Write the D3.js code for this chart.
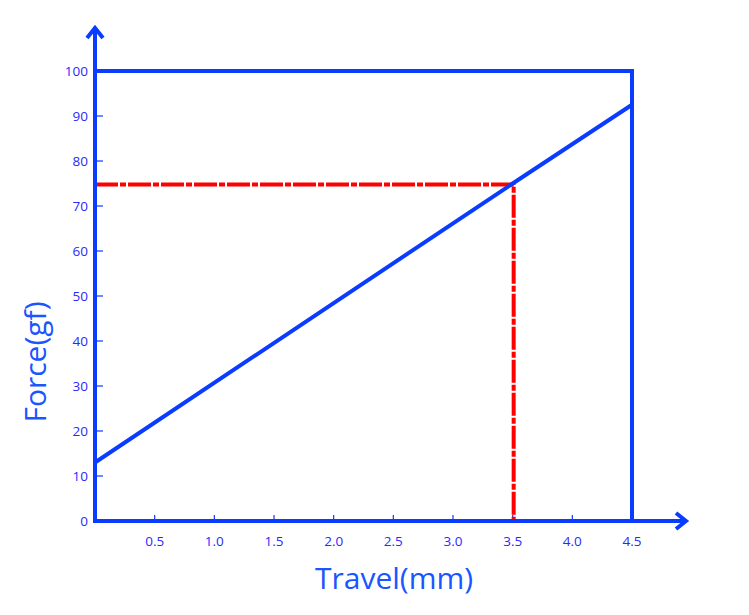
<!DOCTYPE html>
<html><head><meta charset="utf-8">
<script src="https://cdn.jsdelivr.net/npm/d3@7"></script>
<style>body{margin:0;background:#fff}</style>
</head><body>
<svg id="c" width="749" height="615"></svg>
<script>
const xTicks = [0.5,1.0,1.5,2.0,2.5,3.0,3.5,4.0,4.5];
const yTicks = [0,10,20,30,40,50,60,70,80,90,100];
const lineTravel = [0, 3.5, 4.5];
const lineForce = [13, 75, 92.5];
const markTravel = 3.5;
const markForce = 75;
const xMax = 4.5, yMax = 100;

const svg = d3.select("#c");
const blue = "#0a3cff", txt = "#2a2aff";
const x = d3.scaleLinear().domain([0,4.5]).range([95,632]);
const y = d3.scaleLinear().domain([0,100]).range([521,71]);

// tick labels
svg.append("g").selectAll("text").data(xTicks).join("text")
  .attr("x", d=>x(d)).attr("y", 546).attr("text-anchor","middle")
  .attr("font-family","Open Sans, DejaVu Sans, sans-serif").attr("font-size",13.5).attr("fill",txt)
  .text(d=>d3.format(".1f")(d));
svg.append("g").selectAll("text").data(yTicks).join("text")
  .attr("x", 88).attr("y", d=>y(d)+5).attr("text-anchor","end")
  .attr("font-family","Open Sans, DejaVu Sans, sans-serif").attr("font-size",13.5).attr("fill",txt)
  .text(d=>d);
// tick marks
svg.append("g").selectAll("line").data(xTicks).join("line")
  .attr("x1",d=>x(d)).attr("x2",d=>x(d)).attr("y1",521).attr("y2",515)
  .attr("stroke",blue).attr("stroke-width",1.2);
svg.append("g").selectAll("line").data(yTicks.slice(1)).join("line")
  .attr("x1",95).attr("x2",103).attr("y1",d=>y(d)).attr("y2",d=>y(d))
  .attr("stroke",blue).attr("stroke-width",1.2);

// box
svg.append("path").attr("d",`M${x(0)},${y(yMax)}H${x(xMax)}V${y(0)}`)
  .attr("fill","none").attr("stroke",blue).attr("stroke-width",4);

// red dash-dot
svg.append("path").attr("d",`M${x(0)},${y(markForce)+1}H${x(markTravel)+1}V${y(0)}`)
  .attr("fill","none").attr("stroke","#ff0000").attr("stroke-width",4)
  .attr("stroke-dasharray","23,2,6,2");

// data line
const line = d3.line().x(d=>x(d[0])).y(d=>y(d[1]));
svg.append("path").datum(lineTravel.map((t,i)=>[t,lineForce[i]]))
  .attr("d",line).attr("fill","none").attr("stroke",blue).attr("stroke-width",4);

// axes with arrows
svg.append("line").attr("x1",95).attr("y1",523).attr("x2",95).attr("y2",29)
  .attr("stroke",blue).attr("stroke-width",4);
svg.append("line").attr("x1",93).attr("y1",521).attr("x2",686).attr("y2",521)
  .attr("stroke",blue).attr("stroke-width",4);
svg.append("path").attr("d","M87,38 L95,28 L103,38").attr("fill","none")
  .attr("stroke",blue).attr("stroke-width",4).attr("stroke-linejoin","miter");
svg.append("path").attr("d","M676,513 L686,521 L676,529").attr("fill","none")
  .attr("stroke",blue).attr("stroke-width",4).attr("stroke-linejoin","miter");

// titles
svg.append("text").attr("x",394).attr("y",589).attr("text-anchor","middle")
  .attr("font-family","Open Sans, DejaVu Sans, sans-serif").attr("font-size",30).attr("fill","#1a55ff")
  .text("Travel(mm)");
svg.append("text").attr("transform","translate(46,362) rotate(-90)").attr("text-anchor","middle")
  .attr("font-family","Open Sans, DejaVu Sans, sans-serif").attr("font-size",30).attr("fill","#1a55ff")
  .text("Force(gf)");
</script>
</body></html>
